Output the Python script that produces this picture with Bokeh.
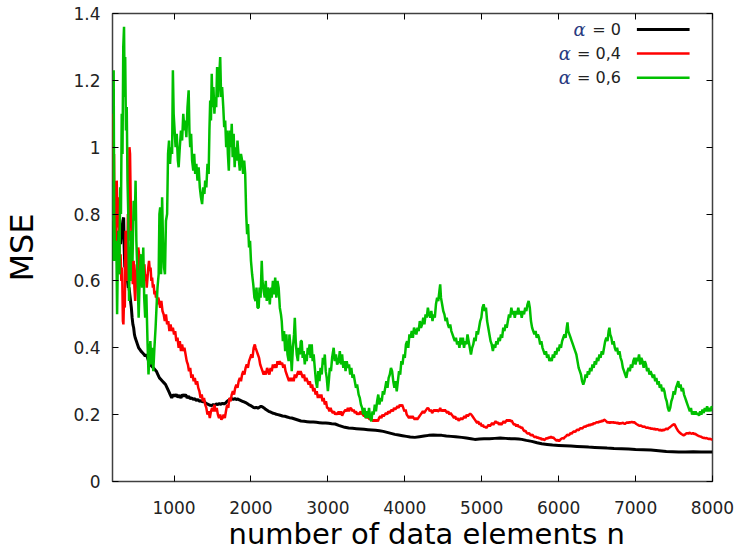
from bokeh.plotting import figure
from bokeh.models import FixedTicker, LinearAxis, Label, Arrow, Range1d, Title
from bokeh.embed import file_html
from bokeh.resources import INLINE

# ---------------- data ----------------
x_ticks = [1000, 2000, 3000, 4000, 5000, 6000, 7000, 8000]
x_tick_labels = ["1000", "2000", "3000", "4000", "5000", "6000", "7000", "8000"]
y_ticks = [0, 0.2, 0.4, 0.6, 0.8, 1.0, 1.2, 1.4]
y_tick_labels = ["0", "0.2", "0.4", "0.6", "0.8", "1", "1.2", "1.4"]
x_title = "number of data elements n"
y_title = "MSE"

series_names = ["0", "0,4", "0,6"]
series_colors = ["#000000", "#ff0000", "#00c000"]

black_points = [
    (200, 0.66), (205, 0.75), (212, 0.72), (220, 0.78), (228, 0.70), (236, 0.74), (245, 0.68), (255, 0.72),
    (265, 0.70), (275, 0.75), (285, 0.73), (295, 0.76), (305, 0.71), (315, 0.74), (325, 0.76), (335, 0.78),
    (345, 0.79), (352, 0.70), (360, 0.64), (368, 0.69), (376, 0.62), (385, 0.65), (395, 0.60), (405, 0.58),
    (415, 0.58), (425, 0.56), (435, 0.54), (445, 0.52), (455, 0.49), (465, 0.47), (475, 0.46), (485, 0.44),
    (495, 0.43), (510, 0.42), (525, 0.41), (540, 0.40), (555, 0.395), (570, 0.39), (590, 0.385), (610, 0.38),
    (625, 0.375), (640, 0.38), (655, 0.37), (670, 0.36), (690, 0.35), (710, 0.345), (730, 0.34), (750, 0.335),
    (770, 0.33), (790, 0.32), (810, 0.31), (830, 0.305), (850, 0.30), (870, 0.295), (890, 0.29), (910, 0.28),
    (930, 0.27), (950, 0.26), (970, 0.25), (990, 0.26), (1010, 0.255), (1030, 0.26), (1050, 0.252), (1070, 0.258),
    (1090, 0.25), (1110, 0.26), (1130, 0.255), (1150, 0.26), (1170, 0.25), (1190, 0.255), (1210, 0.248), (1230, 0.25),
    (1250, 0.245), (1270, 0.248), (1290, 0.242), (1310, 0.245), (1330, 0.24), (1350, 0.242), (1370, 0.238), (1390, 0.24),
    (1410, 0.235), (1430, 0.232), (1450, 0.23), (1470, 0.228), (1490, 0.227), (1510, 0.23), (1530, 0.228), (1550, 0.232),
    (1570, 0.23), (1590, 0.233), (1610, 0.231), (1630, 0.234), (1650, 0.232), (1670, 0.235), (1690, 0.24), (1710, 0.243),
    (1730, 0.247), (1750, 0.248), (1770, 0.246), (1790, 0.248), (1810, 0.245), (1830, 0.247), (1850, 0.244), (1870, 0.242),
    (1890, 0.24), (1910, 0.238), (1930, 0.236), (1950, 0.233), (1970, 0.23), (1990, 0.228), (2010, 0.225), (2030, 0.222),
    (2050, 0.22), (2070, 0.222), (2090, 0.219), (2110, 0.222), (2130, 0.225), (2150, 0.223), (2170, 0.22), (2190, 0.216),
    (2210, 0.213), (2230, 0.21), (2250, 0.208), (2270, 0.206), (2290, 0.204), (2310, 0.203), (2330, 0.201), (2350, 0.20),
    (2380, 0.198), (2410, 0.196), (2440, 0.195), (2470, 0.193), (2500, 0.191), (2530, 0.19), (2570, 0.187), (2610, 0.184),
    (2650, 0.181), (2690, 0.18), (2730, 0.179), (2770, 0.178), (2810, 0.178), (2850, 0.177), (2890, 0.176), (2930, 0.175),
    (2970, 0.175), (3010, 0.174), (3050, 0.173), (3095, 0.172), (3140, 0.168), (3180, 0.165), (3220, 0.162), (3270, 0.16),
    (3320, 0.159), (3370, 0.158), (3420, 0.157), (3470, 0.156), (3520, 0.155), (3570, 0.154), (3620, 0.153), (3670, 0.152),
    (3720, 0.15), (3770, 0.147), (3820, 0.144), (3870, 0.141), (3920, 0.139), (3970, 0.137), (4020, 0.135), (4070, 0.133),
    (4130, 0.132), (4190, 0.134), (4250, 0.136), (4310, 0.138), (4370, 0.139), (4430, 0.138), (4480, 0.138), (4540, 0.136),
    (4600, 0.135), (4660, 0.134), (4740, 0.132), (4800, 0.13), (4860, 0.128), (4910, 0.126), (4970, 0.127), (5030, 0.128),
    (5100, 0.128), (5170, 0.129), (5240, 0.13), (5310, 0.129), (5380, 0.128), (5430, 0.128), (5480, 0.127), (5520, 0.126),
    (5580, 0.123), (5650, 0.12), (5720, 0.116), (5780, 0.113), (5850, 0.111), (5920, 0.109), (6000, 0.108), (6080, 0.107),
    (6160, 0.106), (6240, 0.105), (6320, 0.104), (6390, 0.103), (6470, 0.102), (6550, 0.101), (6630, 0.10), (6720, 0.099),
    (6820, 0.098), (6910, 0.097), (7000, 0.096), (7100, 0.095), (7200, 0.094), (7300, 0.092), (7400, 0.09), (7480, 0.089),
    (7560, 0.088), (7650, 0.088), (7750, 0.089), (7850, 0.088), (7930, 0.088), (8000, 0.088),
]

red_points = [
    (200, 1.10), (203, 1.00), (208, 1.05), (214, 0.90), (220, 0.98), (228, 0.72), (236, 0.88), (245, 0.70),
    (255, 0.90), (265, 0.76), (275, 0.85), (285, 0.74), (295, 0.62), (305, 0.68), (315, 0.60), (325, 0.64),
    (335, 0.48), (342, 0.47), (350, 0.55), (360, 0.52), (370, 0.75), (380, 0.62), (390, 0.60), (400, 0.80),
    (410, 0.72), (420, 1.00), (428, 0.98), (436, 0.85), (445, 0.75), (455, 0.62), (465, 0.59), (475, 0.66),
    (485, 0.58), (495, 0.54), (505, 0.60), (515, 0.65), (525, 0.62), (535, 0.70), (545, 0.68), (555, 0.62),
    (565, 0.64), (575, 0.60), (585, 0.61), (595, 0.64), (605, 0.62), (615, 0.65), (625, 0.60), (635, 0.62),
    (645, 0.58), (655, 0.61), (665, 0.64), (675, 0.66), (685, 0.63), (695, 0.64), (705, 0.60), (715, 0.61),
    (725, 0.58), (735, 0.59), (745, 0.56), (755, 0.57), (765, 0.55), (775, 0.56), (785, 0.53), (795, 0.55),
    (805, 0.54), (820, 0.52), (835, 0.54), (850, 0.51), (865, 0.50), (880, 0.48), (895, 0.50), (910, 0.47),
    (925, 0.48), (940, 0.45), (955, 0.47), (970, 0.45), (985, 0.46), (1000, 0.44), (1015, 0.45), (1030, 0.42),
    (1045, 0.43), (1060, 0.40), (1075, 0.42), (1090, 0.39), (1105, 0.41), (1120, 0.39), (1135, 0.40), (1150, 0.38),
    (1165, 0.36), (1180, 0.35), (1195, 0.33), (1210, 0.34), (1225, 0.31), (1240, 0.32), (1255, 0.30), (1270, 0.31),
    (1285, 0.29), (1300, 0.30), (1315, 0.28), (1330, 0.27), (1345, 0.25), (1360, 0.26), (1375, 0.24), (1390, 0.25),
    (1405, 0.23), (1420, 0.22), (1435, 0.20), (1450, 0.21), (1465, 0.19), (1480, 0.21), (1495, 0.22), (1510, 0.21),
    (1525, 0.23), (1540, 0.21), (1555, 0.22), (1570, 0.20), (1585, 0.19), (1600, 0.20), (1615, 0.185), (1630, 0.19),
    (1645, 0.20), (1660, 0.19), (1675, 0.21), (1690, 0.23), (1705, 0.22), (1720, 0.25), (1735, 0.24), (1750, 0.26),
    (1765, 0.27), (1780, 0.26), (1795, 0.28), (1810, 0.29), (1825, 0.28), (1840, 0.30), (1855, 0.31), (1870, 0.30),
    (1885, 0.32), (1900, 0.33), (1915, 0.32), (1930, 0.34), (1945, 0.35), (1960, 0.34), (1975, 0.36), (1990, 0.37),
    (2005, 0.38), (2020, 0.37), (2035, 0.40), (2050, 0.41), (2060, 0.40), (2075, 0.39), (2090, 0.38), (2105, 0.37),
    (2120, 0.35), (2135, 0.34), (2150, 0.33), (2165, 0.32), (2180, 0.33), (2195, 0.32), (2210, 0.34), (2225, 0.33),
    (2240, 0.32), (2255, 0.34), (2270, 0.33), (2285, 0.35), (2300, 0.34), (2315, 0.35), (2330, 0.34), (2345, 0.36),
    (2360, 0.35), (2375, 0.36), (2390, 0.35), (2405, 0.355), (2420, 0.34), (2435, 0.35), (2450, 0.33), (2465, 0.32),
    (2480, 0.31), (2495, 0.30), (2510, 0.31), (2525, 0.30), (2540, 0.31), (2555, 0.30), (2570, 0.32), (2585, 0.31),
    (2600, 0.32), (2615, 0.33), (2630, 0.32), (2645, 0.33), (2660, 0.32), (2675, 0.31), (2690, 0.32), (2705, 0.30),
    (2720, 0.31), (2735, 0.30), (2750, 0.29), (2765, 0.30), (2780, 0.28), (2795, 0.29), (2810, 0.27), (2825, 0.28),
    (2840, 0.26), (2855, 0.27), (2870, 0.25), (2885, 0.26), (2900, 0.25), (2915, 0.26), (2930, 0.24), (2945, 0.25),
    (2960, 0.23), (2975, 0.24), (2990, 0.22), (3005, 0.22), (3020, 0.21), (3035, 0.22), (3050, 0.21), (3065, 0.205),
    (3080, 0.21), (3095, 0.20), (3110, 0.205), (3125, 0.20), (3140, 0.21), (3155, 0.20), (3170, 0.21), (3185, 0.197),
    (3200, 0.205), (3215, 0.21), (3230, 0.215), (3245, 0.21), (3260, 0.22), (3275, 0.21), (3290, 0.22), (3305, 0.218),
    (3320, 0.21), (3335, 0.215), (3350, 0.205), (3365, 0.21), (3380, 0.20), (3395, 0.205), (3410, 0.20), (3425, 0.21),
    (3440, 0.203), (3455, 0.20), (3470, 0.195), (3485, 0.20), (3500, 0.19), (3515, 0.195), (3530, 0.19), (3545, 0.185),
    (3560, 0.19), (3575, 0.185), (3590, 0.18), (3605, 0.185), (3620, 0.18), (3635, 0.185), (3650, 0.18), (3665, 0.19),
    (3680, 0.195), (3695, 0.19), (3710, 0.20), (3725, 0.195), (3740, 0.20), (3755, 0.205), (3770, 0.20), (3785, 0.21),
    (3800, 0.205), (3815, 0.21), (3830, 0.215), (3845, 0.21), (3860, 0.22), (3875, 0.215), (3890, 0.22), (3905, 0.225),
    (3920, 0.22), (3935, 0.23), (3950, 0.225), (3965, 0.23), (3980, 0.22), (3995, 0.21), (4010, 0.215), (4025, 0.20),
    (4040, 0.195), (4055, 0.19), (4070, 0.195), (4085, 0.19), (4100, 0.195), (4115, 0.19), (4130, 0.185), (4145, 0.19),
    (4160, 0.185), (4175, 0.19), (4190, 0.195), (4205, 0.20), (4220, 0.205), (4235, 0.21), (4250, 0.205), (4265, 0.21),
    (4280, 0.215), (4295, 0.22), (4310, 0.218), (4325, 0.21), (4340, 0.215), (4355, 0.205), (4370, 0.21), (4385, 0.215),
    (4400, 0.21), (4415, 0.215), (4430, 0.21), (4445, 0.212), (4460, 0.22), (4475, 0.21), (4490, 0.215), (4505, 0.21),
    (4520, 0.215), (4535, 0.21), (4550, 0.205), (4565, 0.21), (4580, 0.20), (4595, 0.205), (4610, 0.20), (4625, 0.195),
    (4640, 0.19), (4655, 0.195), (4670, 0.185), (4685, 0.19), (4700, 0.182), (4715, 0.185), (4730, 0.19), (4745, 0.185),
    (4760, 0.19), (4775, 0.195), (4790, 0.19), (4805, 0.20), (4820, 0.195), (4835, 0.20), (4850, 0.203), (4865, 0.20),
    (4880, 0.195), (4895, 0.19), (4910, 0.185), (4925, 0.18), (4940, 0.175), (4955, 0.18), (4970, 0.17), (4985, 0.175),
    (5000, 0.165), (5015, 0.17), (5030, 0.162), (5045, 0.165), (5060, 0.16), (5075, 0.165), (5090, 0.17), (5105, 0.165),
    (5120, 0.17), (5135, 0.175), (5150, 0.17), (5165, 0.175), (5180, 0.18), (5195, 0.175), (5210, 0.177), (5225, 0.17),
    (5240, 0.175), (5255, 0.17), (5270, 0.175), (5285, 0.18), (5300, 0.175), (5315, 0.18), (5330, 0.185), (5345, 0.18),
    (5360, 0.185), (5375, 0.18), (5390, 0.182), (5405, 0.175), (5420, 0.17), (5435, 0.172), (5450, 0.165), (5465, 0.17),
    (5480, 0.163), (5495, 0.165), (5510, 0.16), (5525, 0.162), (5540, 0.155), (5555, 0.15), (5570, 0.152), (5585, 0.145),
    (5600, 0.143), (5615, 0.145), (5630, 0.14), (5645, 0.138), (5660, 0.14), (5675, 0.135), (5690, 0.132), (5705, 0.135),
    (5720, 0.13), (5735, 0.132), (5750, 0.128), (5765, 0.13), (5780, 0.125), (5795, 0.128), (5810, 0.124), (5825, 0.126),
    (5840, 0.13), (5855, 0.128), (5870, 0.132), (5885, 0.13), (5900, 0.135), (5915, 0.13), (5930, 0.132), (5945, 0.128),
    (5960, 0.125), (5975, 0.122), (5990, 0.125), (6005, 0.12), (6020, 0.125), (6035, 0.128), (6050, 0.13), (6065, 0.128),
    (6080, 0.133), (6095, 0.135), (6110, 0.14), (6125, 0.138), (6140, 0.14), (6155, 0.145), (6170, 0.143), (6185, 0.148),
    (6200, 0.15), (6215, 0.148), (6230, 0.153), (6245, 0.155), (6260, 0.153), (6275, 0.158), (6290, 0.16), (6305, 0.158),
    (6320, 0.162), (6335, 0.165), (6350, 0.163), (6365, 0.168), (6380, 0.166), (6395, 0.17), (6410, 0.168), (6425, 0.172),
    (6440, 0.17), (6455, 0.175), (6470, 0.173), (6485, 0.176), (6500, 0.178), (6515, 0.176), (6530, 0.18), (6545, 0.178),
    (6560, 0.182), (6575, 0.18), (6590, 0.185), (6605, 0.183), (6620, 0.18), (6635, 0.176), (6650, 0.178), (6665, 0.175),
    (6680, 0.178), (6695, 0.176), (6710, 0.178), (6725, 0.175), (6740, 0.177), (6755, 0.174), (6770, 0.176), (6785, 0.172),
    (6800, 0.175), (6815, 0.173), (6830, 0.176), (6845, 0.174), (6860, 0.172), (6875, 0.175), (6890, 0.177), (6905, 0.175),
    (6920, 0.178), (6935, 0.176), (6950, 0.179), (6965, 0.176), (6980, 0.178), (6995, 0.175), (7010, 0.172), (7025, 0.17),
    (7040, 0.168), (7055, 0.166), (7070, 0.168), (7085, 0.165), (7100, 0.163), (7115, 0.165), (7130, 0.162), (7145, 0.16),
    (7160, 0.162), (7175, 0.159), (7190, 0.16), (7205, 0.157), (7220, 0.159), (7235, 0.156), (7250, 0.158), (7265, 0.155),
    (7280, 0.157), (7295, 0.155), (7310, 0.153), (7325, 0.155), (7340, 0.152), (7355, 0.155), (7370, 0.153), (7385, 0.156),
    (7400, 0.158), (7415, 0.156), (7430, 0.16), (7445, 0.162), (7460, 0.165), (7475, 0.168), (7490, 0.17), (7505, 0.172),
    (7520, 0.165), (7535, 0.158), (7550, 0.152), (7565, 0.148), (7580, 0.145), (7595, 0.142), (7610, 0.14), (7625, 0.138),
    (7640, 0.14), (7655, 0.143), (7670, 0.145), (7685, 0.143), (7700, 0.146), (7715, 0.144), (7730, 0.143), (7745, 0.145),
    (7760, 0.142), (7775, 0.143), (7790, 0.14), (7805, 0.138), (7820, 0.136), (7835, 0.135), (7850, 0.134), (7865, 0.132),
    (7880, 0.13), (7895, 0.131), (7910, 0.129), (7925, 0.13), (7940, 0.128), (7955, 0.127), (7970, 0.128), (7985, 0.126),
    (8000, 0.126),
]

green_points = [
    (200, 0.70), (205, 0.88), (210, 0.66), (215, 1.23), (222, 0.80), (230, 0.70), (240, 0.66), (250, 0.72),
    (260, 0.50), (270, 0.68), (280, 0.75), (290, 0.62), (300, 0.88), (310, 0.80), (320, 1.10), (330, 0.98),
    (340, 1.30), (350, 1.36), (358, 1.15), (365, 1.27), (375, 1.05), (385, 1.12), (395, 0.90), (405, 0.80),
    (415, 0.54), (425, 0.70), (435, 0.60), (445, 0.75), (460, 0.66), (475, 0.84), (490, 0.78), (500, 0.90),
    (510, 0.72), (525, 0.62), (540, 0.49), (555, 0.62), (570, 0.68), (585, 0.58), (600, 0.70), (612, 0.55),
    (625, 0.49), (640, 0.56), (655, 0.42), (668, 0.32), (680, 0.38), (692, 0.42), (705, 0.35), (718, 0.40),
    (730, 0.33), (745, 0.40), (760, 0.46), (772, 0.52), (785, 0.58), (800, 0.62), (810, 0.80), (820, 0.82),
    (832, 0.62), (845, 0.85), (858, 0.70), (870, 0.64), (882, 0.62), (895, 0.78), (910, 0.80), (922, 0.98),
    (935, 1.02), (948, 0.95), (960, 1.00), (975, 0.98), (985, 1.23), (995, 1.10), (1005, 1.06), (1020, 1.00),
    (1035, 1.04), (1050, 0.96), (1060, 0.94), (1075, 1.00), (1090, 1.05), (1105, 1.02), (1120, 1.10), (1135, 1.05),
    (1145, 1.08), (1160, 1.03), (1175, 1.12), (1190, 1.17), (1200, 1.05), (1210, 1.00), (1222, 1.04), (1235, 0.96),
    (1250, 0.93), (1262, 0.98), (1275, 0.92), (1290, 0.95), (1305, 0.90), (1320, 0.94), (1335, 0.88), (1350, 0.85),
    (1365, 0.83), (1380, 0.88), (1395, 0.86), (1405, 0.90), (1420, 0.88), (1435, 0.95), (1450, 0.92), (1460, 1.05),
    (1470, 1.14), (1480, 1.08), (1490, 1.22), (1500, 1.12), (1512, 1.18), (1525, 1.10), (1535, 1.15), (1548, 1.12),
    (1560, 1.24), (1572, 1.15), (1585, 1.20), (1600, 1.27), (1612, 1.15), (1625, 1.18), (1640, 1.12), (1652, 1.06),
    (1665, 1.08), (1678, 1.00), (1690, 1.05), (1700, 0.98), (1712, 0.93), (1725, 1.05), (1738, 1.00), (1750, 1.07),
    (1762, 0.97), (1775, 1.04), (1788, 0.94), (1800, 1.00), (1812, 0.96), (1825, 1.02), (1840, 0.97), (1855, 0.93),
    (1870, 0.98), (1885, 0.96), (1898, 0.92), (1912, 0.96), (1925, 0.92), (1938, 0.80), (1950, 0.74), (1962, 0.77),
    (1975, 0.70), (1988, 0.72), (2000, 0.66), (2015, 0.62), (2030, 0.59), (2045, 0.55), (2060, 0.54), (2072, 0.58),
    (2085, 0.52), (2100, 0.52), (2112, 0.58), (2125, 0.55), (2140, 0.66), (2150, 0.60), (2165, 0.57), (2180, 0.55),
    (2192, 0.60), (2205, 0.54), (2218, 0.58), (2230, 0.57), (2245, 0.53), (2258, 0.58), (2270, 0.55), (2285, 0.60),
    (2300, 0.56), (2315, 0.61), (2330, 0.55), (2345, 0.60), (2360, 0.58), (2375, 0.52), (2390, 0.50), (2400, 0.48),
    (2415, 0.42), (2430, 0.45), (2445, 0.39), (2460, 0.44), (2475, 0.38), (2490, 0.36), (2500, 0.44), (2515, 0.40),
    (2530, 0.33), (2545, 0.40), (2560, 0.44), (2570, 0.49), (2582, 0.42), (2595, 0.38), (2610, 0.36), (2622, 0.40),
    (2635, 0.38), (2648, 0.42), (2660, 0.42), (2672, 0.37), (2685, 0.39), (2700, 0.35), (2712, 0.38), (2725, 0.36),
    (2738, 0.40), (2750, 0.38), (2762, 0.41), (2775, 0.37), (2790, 0.41), (2802, 0.36), (2815, 0.38), (2830, 0.34),
    (2845, 0.30), (2860, 0.28), (2875, 0.33), (2890, 0.30), (2905, 0.34), (2920, 0.32), (2935, 0.37), (2948, 0.35),
    (2960, 0.38), (2972, 0.33), (2985, 0.31), (3000, 0.27), (3012, 0.30), (3025, 0.34), (3040, 0.33), (3055, 0.37),
    (3075, 0.40), (3090, 0.36), (3105, 0.38), (3120, 0.35), (3140, 0.36), (3155, 0.39), (3170, 0.35), (3185, 0.38),
    (3200, 0.34), (3215, 0.36), (3230, 0.33), (3245, 0.36), (3260, 0.34), (3275, 0.35), (3290, 0.32), (3305, 0.34),
    (3320, 0.31), (3335, 0.32), (3350, 0.30), (3365, 0.28), (3380, 0.29), (3400, 0.26), (3415, 0.25), (3430, 0.23),
    (3445, 0.22), (3460, 0.20), (3475, 0.22), (3490, 0.19), (3505, 0.21), (3520, 0.19), (3535, 0.22), (3550, 0.19),
    (3565, 0.18), (3580, 0.21), (3595, 0.20), (3610, 0.23), (3625, 0.21), (3640, 0.24), (3655, 0.26), (3670, 0.23),
    (3685, 0.25), (3700, 0.24), (3715, 0.27), (3730, 0.26), (3745, 0.28), (3760, 0.30), (3775, 0.28), (3790, 0.31),
    (3805, 0.32), (3820, 0.34), (3835, 0.33), (3850, 0.30), (3865, 0.28), (3880, 0.30), (3895, 0.27), (3910, 0.30),
    (3925, 0.33), (3940, 0.32), (3955, 0.36), (3970, 0.35), (3985, 0.38), (4000, 0.37), (4015, 0.41), (4030, 0.42),
    (4045, 0.40), (4060, 0.44), (4075, 0.43), (4090, 0.45), (4105, 0.43), (4120, 0.46), (4135, 0.45), (4150, 0.44),
    (4165, 0.46), (4180, 0.45), (4195, 0.48), (4210, 0.46), (4225, 0.47), (4240, 0.49), (4255, 0.47), (4270, 0.50),
    (4285, 0.49), (4300, 0.52), (4315, 0.50), (4330, 0.49), (4345, 0.51), (4360, 0.48), (4375, 0.50), (4390, 0.49),
    (4405, 0.53), (4420, 0.55), (4435, 0.54), (4450, 0.57), (4460, 0.59), (4470, 0.55), (4485, 0.53), (4500, 0.51),
    (4515, 0.50), (4530, 0.48), (4545, 0.49), (4560, 0.47), (4575, 0.46), (4590, 0.47), (4605, 0.45), (4620, 0.44),
    (4635, 0.43), (4650, 0.42), (4665, 0.43), (4680, 0.41), (4695, 0.42), (4710, 0.40), (4725, 0.43), (4740, 0.41),
    (4755, 0.43), (4770, 0.40), (4785, 0.42), (4800, 0.41), (4815, 0.44), (4830, 0.42), (4845, 0.40), (4860, 0.38),
    (4875, 0.40), (4890, 0.41), (4905, 0.43), (4920, 0.42), (4935, 0.45), (4950, 0.44), (4965, 0.46), (4980, 0.48),
    (4995, 0.49), (5010, 0.52), (5025, 0.53), (5040, 0.51), (5055, 0.52), (5070, 0.48), (5085, 0.46), (5100, 0.44),
    (5115, 0.42), (5130, 0.41), (5145, 0.39), (5160, 0.41), (5175, 0.40), (5190, 0.42), (5205, 0.41), (5220, 0.43),
    (5235, 0.42), (5250, 0.44), (5265, 0.43), (5280, 0.46), (5295, 0.45), (5310, 0.47), (5325, 0.46), (5340, 0.48),
    (5355, 0.50), (5370, 0.49), (5385, 0.52), (5400, 0.50), (5415, 0.51), (5430, 0.49), (5445, 0.51), (5460, 0.50),
    (5475, 0.52), (5490, 0.50), (5505, 0.51), (5520, 0.49), (5535, 0.51), (5550, 0.50), (5565, 0.52), (5580, 0.51),
    (5595, 0.53), (5610, 0.54), (5625, 0.52), (5640, 0.48), (5655, 0.46), (5670, 0.45), (5685, 0.44), (5700, 0.45),
    (5715, 0.43), (5730, 0.44), (5745, 0.43), (5760, 0.41), (5775, 0.42), (5790, 0.40), (5805, 0.39), (5820, 0.38),
    (5835, 0.39), (5850, 0.37), (5865, 0.38), (5880, 0.36), (5895, 0.37), (5910, 0.36), (5925, 0.38), (5940, 0.37),
    (5955, 0.39), (5970, 0.38), (5985, 0.40), (6000, 0.39), (6015, 0.41), (6030, 0.40), (6045, 0.42), (6060, 0.43),
    (6075, 0.44), (6090, 0.43), (6105, 0.46), (6115, 0.476), (6125, 0.45), (6140, 0.44), (6155, 0.43), (6170, 0.42),
    (6185, 0.41), (6200, 0.40), (6215, 0.39), (6230, 0.38), (6245, 0.36), (6260, 0.34), (6275, 0.33), (6290, 0.32),
    (6305, 0.30), (6320, 0.29), (6335, 0.30), (6350, 0.32), (6365, 0.31), (6380, 0.33), (6395, 0.32), (6410, 0.34),
    (6425, 0.33), (6440, 0.35), (6455, 0.34), (6470, 0.36), (6485, 0.35), (6500, 0.37), (6515, 0.36), (6530, 0.38),
    (6545, 0.37), (6560, 0.39), (6575, 0.38), (6590, 0.40), (6605, 0.42), (6620, 0.43), (6635, 0.42), (6650, 0.45),
    (6660, 0.46), (6670, 0.44), (6685, 0.43), (6700, 0.41), (6715, 0.42), (6730, 0.40), (6745, 0.39), (6760, 0.40),
    (6775, 0.38), (6790, 0.39), (6805, 0.37), (6820, 0.36), (6835, 0.34), (6850, 0.33), (6865, 0.32), (6880, 0.31),
    (6895, 0.33), (6910, 0.34), (6925, 0.33), (6940, 0.35), (6955, 0.34), (6970, 0.36), (6985, 0.37), (7000, 0.35),
    (7015, 0.37), (7030, 0.36), (7045, 0.38), (7060, 0.35), (7075, 0.37), (7090, 0.36), (7105, 0.34), (7120, 0.36),
    (7135, 0.35), (7150, 0.33), (7165, 0.34), (7180, 0.32), (7195, 0.33), (7210, 0.32), (7225, 0.31), (7240, 0.32),
    (7255, 0.30), (7270, 0.31), (7285, 0.29), (7300, 0.30), (7315, 0.28), (7330, 0.29), (7345, 0.27), (7360, 0.28),
    (7375, 0.27), (7390, 0.25), (7405, 0.24), (7420, 0.22), (7435, 0.21), (7450, 0.22), (7465, 0.24), (7480, 0.25),
    (7495, 0.27), (7510, 0.26), (7525, 0.28), (7540, 0.29), (7555, 0.30), (7570, 0.28), (7585, 0.29), (7600, 0.27),
    (7615, 0.28), (7630, 0.26), (7645, 0.25), (7660, 0.24), (7675, 0.23), (7690, 0.22), (7705, 0.21), (7720, 0.22),
    (7735, 0.20), (7750, 0.21), (7765, 0.20), (7780, 0.21), (7795, 0.20), (7810, 0.205), (7825, 0.197), (7840, 0.21),
    (7855, 0.20), (7870, 0.215), (7885, 0.205), (7900, 0.22), (7915, 0.21), (7930, 0.225), (7945, 0.21), (7960, 0.22),
    (7975, 0.21), (7990, 0.225), (8000, 0.22),
]

# ---------------- figure ----------------
FONT = "DejaVu Sans"

p = figure(width=734, height=552, output_backend="svg", toolbar_location=None,
           x_range=Range1d(200, 8000), y_range=Range1d(0, 1.4),
           min_border_left=109, min_border_right=22, min_border_top=13, min_border_bottom=0)
p.grid.visible = False
p.background_fill_color = "white"
p.border_fill_color = "white"
p.outline_line_color = "#404040"
p.outline_line_width = 1.5

x_over = {t: l for t, l in zip(x_ticks, x_tick_labels)}
y_over = {t: l for t, l in zip(y_ticks, y_tick_labels)}


def style_axis(ax, ticks, overrides, show_labels):
    ax.ticker = FixedTicker(ticks=ticks)
    ax.major_label_overrides = overrides
    ax.axis_line_color = None
    ax.major_tick_in = 6
    ax.major_tick_out = 0
    ax.minor_tick_in = 0
    ax.minor_tick_out = 0
    ax.major_tick_line_color = "#000000"
    ax.major_tick_line_width = 1
    ax.major_label_text_font = FONT
    ax.major_label_text_font_size = "17px"
    ax.major_label_text_color = "#222222"
    if not show_labels:
        ax.major_label_overrides = {t: "" for t in ticks}
        ax.major_label_standoff = 0


style_axis(p.xaxis[0], x_ticks, x_over, True)
style_axis(p.yaxis[0], y_ticks, y_over, True)
p.xaxis[0].major_label_standoff = 19
p.yaxis[0].major_label_standoff = 12

p.yaxis.axis_label = y_title
p.yaxis.axis_label_text_font = FONT
p.yaxis.axis_label_text_font_size = "32px"
p.yaxis.axis_label_text_font_style = "normal"
p.yaxis.axis_label_text_color = "#000000"
p.yaxis.axis_label_standoff = 29

top_axis = LinearAxis()
style_axis(top_axis, x_ticks, x_over, False)
p.add_layout(top_axis, "above")
right_axis = LinearAxis()
style_axis(right_axis, y_ticks, y_over, False)
p.add_layout(right_axis, "right")

# x-axis title as a title panel below the axis, starting where the reference's title starts
x_title_panel = Title(text=x_title, align="left", offset=116, standoff=0,
                      text_font=FONT, text_font_size="29px", text_font_style="normal",
                      text_color="#000000", vertical_align="top")
p.add_layout(x_title_panel, "below")

# ---------------- lines ----------------
all_points = [black_points, red_points, green_points]
widths = [3, 2.5, 2.5]
for pts, color, w in zip(all_points, series_colors, widths):
    xs = [a for a, b in pts]
    ys = [b for a, b in pts]
    p.line(xs, ys, line_color=color, line_width=w)

# ---------------- legend (text left, sample line right) ----------------
legend_rows_y = [1.352, 1.280, 1.208]
text_right_x = 6810
alpha_right_x = [6350, 6160, 6160]
sample_x0, sample_x1 = 7017, 7702
for name, color, w, yy, ax_r in zip(series_names, series_colors, widths, legend_rows_y, alpha_right_x):
    p.add_layout(Label(x=text_right_x, y=yy, text="= " + name, text_align="right",
                       text_baseline="middle", text_font=FONT, text_font_size="16px",
                       text_color="#222222"))
    p.add_layout(Label(x=ax_r, y=yy, text="α", text_align="right",
                       text_baseline="middle", text_font="DejaVu Serif", text_font_size="18px",
                       text_font_style="italic", text_color="#2a3a80"))
    p.add_layout(Arrow(x_start=sample_x0, y_start=yy, x_end=sample_x1, y_end=yy,
                       start=None, end=None, line_color=color, line_width=w))

open("out.html", "w").write(file_html(p, INLINE))
